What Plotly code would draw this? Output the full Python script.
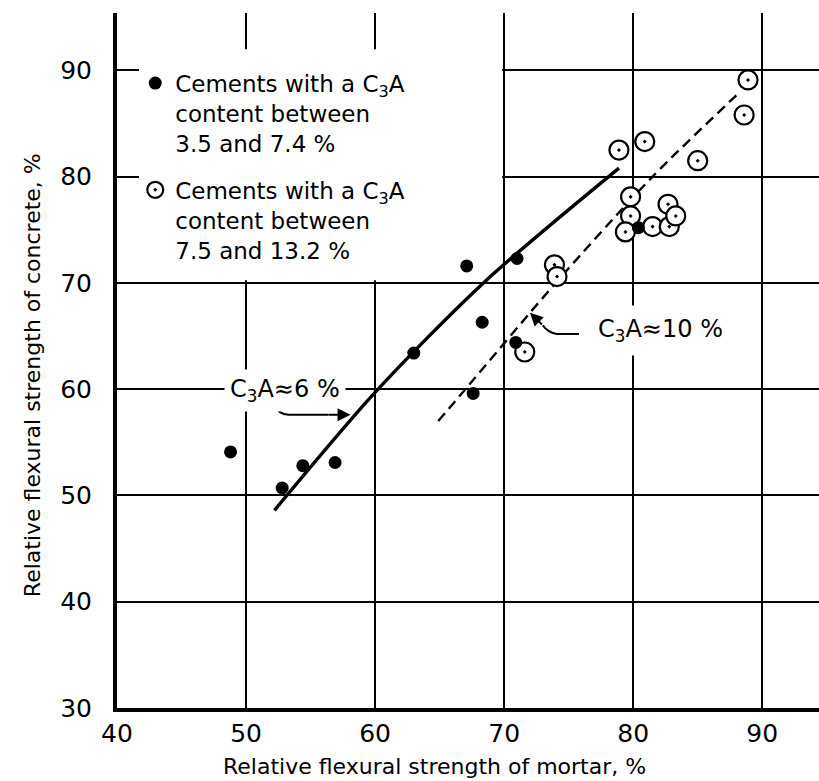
import plotly.graph_objects as go

# Relative flexural strength (%) of mortar vs. concrete
# Cements with a C3A content between 3.5 and 7.4 %
low_c3a_mortar = [48.8, 52.8, 54.4, 56.9, 63.0, 67.1, 68.3, 71.0, 70.9, 67.6, 80.4]
low_c3a_concrete = [54.1, 50.7, 52.8, 53.1, 63.4, 71.6, 66.3, 72.3, 64.4, 59.6, 75.2]

# Cements with a C3A content between 7.5 and 13.2 %
high_c3a_mortar = [88.9, 88.6, 78.9, 80.9, 85.0, 79.8, 79.8, 79.4, 81.5, 82.8,
                   82.7, 83.3, 73.9, 74.1, 71.6]
high_c3a_concrete = [89.1, 85.8, 82.5, 83.3, 81.5, 78.1, 76.3, 74.8, 75.3, 75.3,
                     77.4, 76.3, 71.7, 70.6, 63.5]

# Trend curves for C3A ~ 6 % and C3A ~ 10 %
curve6_mortar = [52.2, 60.0, 68.4, 78.9]
curve6_concrete = [48.6, 59.7, 70.0, 80.8]
curve10_mortar = [64.9, 67.0, 74.0, 81.5, 88.3]
curve10_concrete = [57.0, 60.0, 70.0, 80.0, 88.0]

x_ticks = [40, 50, 60, 70, 80, 90]
y_ticks = [30, 40, 50, 60, 70, 80, 90]

FONT = "DejaVu Sans"
INK = "black"

fig = go.Figure()

fig.add_trace(go.Scatter(
    x=curve6_mortar, y=curve6_concrete, mode="lines",
    line=dict(color=INK, width=3.4, shape="spline", smoothing=0.8),
    showlegend=False, hoverinfo="skip",
))
fig.add_trace(go.Scatter(
    x=curve10_mortar, y=curve10_concrete, mode="lines",
    line=dict(color=INK, width=2.4, dash="10px,6px", shape="spline", smoothing=0.8),
    showlegend=False, hoverinfo="skip",
))
fig.add_trace(go.Scatter(
    x=high_c3a_mortar, y=high_c3a_concrete, mode="markers",
    name="Cements with a C<sub>3</sub>A<br>content between<br>7.5 and 13.2 %",
    marker=dict(symbol="circle-dot", size=19, color="white",
                line=dict(color=INK, width=2.2)),
    legendgroup="high", legendrank=2,
))
fig.add_trace(go.Scatter(
    x=low_c3a_mortar, y=low_c3a_concrete, mode="markers",
    name="Cements with a C<sub>3</sub>A<br>content between<br>3.5 and 7.4 %",
    marker=dict(symbol="circle", size=13, color=INK),
    legendgroup="low", legendrank=1,
))

# blank panel behind the key
fig.add_shape(type="rect", xref="x", yref="y", x0=41.7, x1=69.85, y0=70.25, y1=92.0,
              fillcolor="white", line=dict(width=0), layer="between")

# curve labels with their pointers
fig.add_annotation(x=53.0, y=59.9, xref="x", yref="y", showarrow=False,
                   text="C<sub>3</sub>A≈6 %", font=dict(family=FONT, size=24, color=INK),
                   bgcolor="white", borderpad=5)
fig.add_shape(type="path", xref="x", yref="y",
              path="M 52.1,58.7 Q 52.5,57.6 53.3,57.6 L 56.4,57.6",
              line=dict(color=INK, width=2))
fig.add_annotation(x=58.1, y=57.6, ax=56.3, ay=57.6, xref="x", yref="y",
                   axref="x", ayref="y", text="", showarrow=True,
                   arrowhead=2, arrowsize=1.3, arrowwidth=2, arrowcolor=INK)

fig.add_annotation(x=82.1, y=65.5, xref="x", yref="y", showarrow=False,
                   text="C<sub>3</sub>A≈10 %", font=dict(family=FONT, size=24, color=INK),
                   bgcolor="white", borderpad=9)
fig.add_shape(type="path", xref="x", yref="y",
              path="M 75.8,65.2 L 74.1,65.2 Q 73.4,65.3 73.0,66.0",
              line=dict(color=INK, width=2))
fig.add_annotation(x=72.0, y=67.2, ax=73.05, ay=65.95, xref="x", yref="y",
                   axref="x", ayref="y", text="", showarrow=True,
                   arrowhead=2, arrowsize=1.3, arrowwidth=2, arrowcolor=INK)

# axis titles
fig.add_annotation(x=0.4516, y=-0.0835, xref="paper", yref="paper", showarrow=False,
                   text="Relative flexural strength of mortar, %",
                   font=dict(family=FONT, size=22, color=INK),
                   xanchor="center", yanchor="middle")
fig.add_annotation(x=-0.121, y=0.479, xref="paper", yref="paper", showarrow=False,
                   text="Relative flexural strength of concrete, %", textangle=-90,
                   font=dict(family=FONT, size=22, color=INK),
                   xanchor="center", yanchor="middle")

axis_common = dict(
    showgrid=True, gridcolor=INK, gridwidth=1.6,
    showline=True, linecolor=INK, linewidth=4,
    zeroline=False, ticks="", mirror=False,
    tickfont=dict(family=FONT, size=25, color=INK),
)

fig.update_layout(
    width=819, height=781, autosize=False,
    margin=dict(l=117, r=0, t=13, b=73),
    paper_bgcolor="white", plot_bgcolor="white",
    font=dict(family=FONT, color=INK),
    xaxis=dict(range=[40, 94.4], tickvals=x_ticks, ticklabelstandoff=0, **axis_common),
    yaxis=dict(range=[30, 95.4], tickvals=y_ticks, ticklabelstandoff=16, **axis_common),
    legend=dict(x=0.026, y=0.93, xanchor="left", yanchor="top",
                bgcolor="rgba(0,0,0,0)", valign="top", tracegroupgap=14,
                font=dict(family=FONT, size=23, color=INK)),
    showlegend=True,
)

fig.write_html("out.html")
